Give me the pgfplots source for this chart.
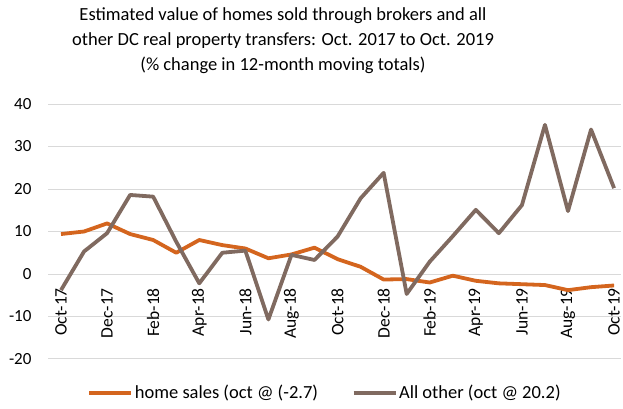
\documentclass[border=0pt]{standalone}
\usepackage{pgfplots}
\pgfplotsset{compat=1.18}
\usepackage{fontspec}
\setmainfont{Carlito}
\definecolor{homeorange}{RGB}{212,101,30}
\definecolor{otherbrown}{RGB}{128,106,96}
\definecolor{gridgray}{RGB}{217,217,217}
\begin{document}
\begin{tikzpicture}[x=1pt,y=1pt]
\useasboundingbox (0,0) rectangle (623,409);
\node[align=center, font=\fontsize{18.5}{25}\selectfont] at (283,368)
  {Estimated value of homes sold through brokers and all\\other DC real property transfers: Oct. 2017 to Oct. 2019\\(\% change in 12-month moving totals)};
\begin{axis}[
  at={(48pt,50pt)}, anchor=south west,
  scale only axis, width=573pt, height=255pt,
  xmin=-0.564, xmax=24.3, ymin=-20, ymax=40,
  axis x line*=middle, axis y line*=left,
  axis line style={draw=none},
  major tick length=0pt,
  ytick={-20,-10,0,10,20,30,40},
  xtick={0,2,...,24},
  xticklabels={Oct-17,Dec-17,Feb-18,Apr-18,Jun-18,Aug-18,Oct-18,Dec-18,Feb-19,Apr-19,Jun-19,Aug-19,Oct-19},
  ymajorgrids, grid style={gridgray, line width=1pt},
  /pgf/number format/assume math mode=true,
  yticklabel style={font=\fontsize{17}{19}\selectfont, xshift=-13pt},
  xticklabel style={font=\fontsize{17.5}{19}\selectfont, yshift=-13pt, rotate=90, anchor=east, inner sep=1pt},
  legend columns=2,
  legend style={at={(0.483,-0.133)}, anchor=center, draw=none, fill=none,
    font=\fontsize{18.5}{20}\selectfont, inner sep=0pt,
    nodes={inner sep=1.5pt},
    /tikz/every even column/.append style={column sep=32pt}},
  legend image code/.code={\draw[#1, line width=4pt] (0pt,0pt) -- (42pt,0pt);},
  clip=false,
]
\addplot[homeorange, line width=3.8pt, line join=round] coordinates {
(0,9.4) (1,10.0) (2,11.9) (3,9.4) (4,8.0) (5,5.0) (6,8.0) (7,6.8) (8,6.0) (9,3.7) (10,4.6) (11,6.2) (12,3.5) (13,1.7) (14,-1.3) (15,-1.2) (16,-2.0) (17,-0.4) (18,-1.6) (19,-2.2) (20,-2.4) (21,-2.6) (22,-3.8) (23,-3.1) (24,-2.7)};
\addlegendentry{home sales (oct @ (-2.7)}
\addplot[otherbrown, line width=3.8pt, line join=round] coordinates {
(0,-3.8) (1,5.3) (2,9.6) (3,18.6) (4,18.2) (5,7.6) (6,-2.2) (7,5.0) (8,5.5) (9,-10.7) (10,4.5) (11,3.3) (12,8.8) (13,17.8) (14,23.8) (15,-4.7) (16,2.9) (17,8.9) (18,15.1) (19,9.6) (20,16.2) (21,35.1) (22,14.8) (23,34.0) (24,20.2)};
\addlegendentry{All other (oct @ 20.2)}
\end{axis}
\end{tikzpicture}
\end{document}
